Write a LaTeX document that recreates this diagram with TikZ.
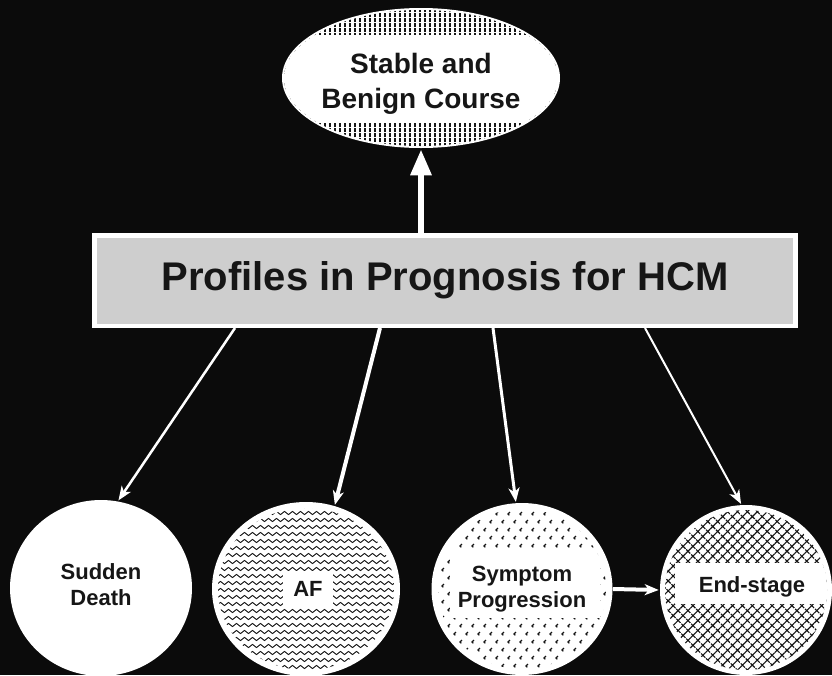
\documentclass[tikz,border=0pt]{standalone}
\usepackage{fontspec}
\setsansfont{Liberation Sans}
\usetikzlibrary{arrows.meta,positioning,shapes.geometric,patterns.meta,decorations.pathmorphing}
\definecolor{bgblack}{RGB}{11,11,11}
\definecolor{boxgray}{RGB}{206,206,206}
\definecolor{inkblack}{RGB}{22,22,22}
\tikzset{
     title/.style={font=\sffamily\bfseries\fontsize{40}{48}\selectfont, text=inkblack},
     stabletext/.style={font=\sffamily\bfseries\fontsize{28}{35}\selectfont, text=inkblack, align=center, inner sep=0pt},
     lbl/.style={font=\sffamily\bfseries\fontsize{22}{26}\selectfont, text=inkblack, align=center, inner sep=0pt},
      mainbox/.style = {rectangle, draw=white, line width=4.5pt, fill=boxgray, minimum width=701pt, minimum height=90.5pt},
      outcome/.style = {ellipse, fill=white, inner sep=0pt},
      branch/.style = {white, -{Stealth[length=14pt,width=11pt,inset=4pt]}},
      uparrow/.style = {white, line width=6pt, -{Triangle[length=26pt,width=20pt]}},
      waves/.style = {inkblack, line width=0.9pt, decorate, decoration={snake, amplitude=1.6pt, segment length=8pt}},
      chev/.style = {inkblack, line width=1.1pt},
    }

\begin{document}
\begin{tikzpicture}[x=1pt, y=-1pt, shorten >=1pt, on grid, semithick]
        \fill[bgblack] (0,0) rectangle (832,675);
        \useasboundingbox (0,0) rectangle (832,675);
        \node [mainbox, title] (main) at (445,280.5) {Profiles in Prognosis for HCM};
        \node [outcome, minimum width=278pt, minimum height=140pt] (stable) [above left=202.5pt and 24pt of main] {};
        \node [outcome, minimum width=182pt, minimum height=176pt] (sd) [below left=307.5pt and 344pt of main] {};
        \node [outcome, minimum width=188pt, minimum height=174pt] (af) [below left=308.5pt and 139pt of main] {};
        \node [outcome, minimum width=181pt, minimum height=172pt] (sp) [below right=308.5pt and 77pt of main] {};
        \node [outcome, minimum width=172pt, minimum height=170pt] (es) [below right=309.5pt and 301pt of main] {};

        % stripes on the stable course
        \begin{scope}
          \clip (stable.center) ellipse [x radius=137pt, y radius=68pt];
          \fill[pattern={Lines[angle=90,distance=5pt,line width=1.7pt]}, pattern color=inkblack] (275,0) rectangle (570,155);
          \fill[white] (275,35) rectangle (570,123);
        \end{scope}
        % waves for AF
        \begin{scope}
          \clip (af.center) ellipse [x radius=88pt, y radius=81pt];
          \foreach \y in {506,513,...,674}
            \draw[waves] (210,\y) -- (404,\y);
        \end{scope}
        % marks for symptom progression
        \begin{scope}
          \clip (sp.center) ellipse [x radius=84pt, y radius=80pt];
          \foreach \r in {0,...,21} {
            \pgfmathsetmacro\yy{506+8*\r}
            \pgfmathsetmacro\off{6*mod(\r,2)}
            \foreach \c in {0,...,15} {
              \pgfmathsetmacro\xx{430+12*\c+\off}
              \draw[chev] (\xx+2,\yy-2) -- (\xx,\yy) -- (\xx+2,\yy+2);
            }
          }
          \fill[white] (450,550) rectangle (600,618);
        \end{scope}
        % crosshatch for end-stage
        \begin{scope}
          \clip (es.center) ellipse [x radius=81pt, y radius=80pt];
          \fill[pattern={Hatch[angle=45,distance=7pt,line width=1.1pt]}, pattern color=inkblack] (650,500) rectangle (840,680);
          \fill[white] (675,563) rectangle (840,604);
        \end{scope}

        \node [stabletext] (stablelbl) at ([yshift=-5.5pt]stable.center) {Stable and\\Benign Course};
        \node [lbl] (sdlbl) at ([yshift=3pt]sd.center) {Sudden\\Death};
        \node [lbl, fill=white, minimum width=50pt, minimum height=37pt] (aflbl) at ([xshift=2pt]af.center) {AF};
        \node [lbl] (splbl) at (sp.center) {Symptom\\Progression};
        \node [lbl] (eslbl) at ([xshift=6pt,yshift=3pt]es.center) {End-stage};

        \draw[uparrow] (main.north -| stable.south) -- (stable.south);
        \draw[branch, line width=2.5pt] ([xshift=-210pt]main.south) -- (sd.79);
        \draw[branch, line width=4pt] ([xshift=-65pt]main.south) -- (af.71);
        \draw[branch, line width=3pt] ([xshift=48pt]main.south) -- (sp.94);
        \draw[branch, line width=2pt] ([xshift=200pt]main.south) -- (es.93);
        \draw[branch, line width=4pt] (sp.east) -- (es.west);
    \end{tikzpicture}
\end{document}
